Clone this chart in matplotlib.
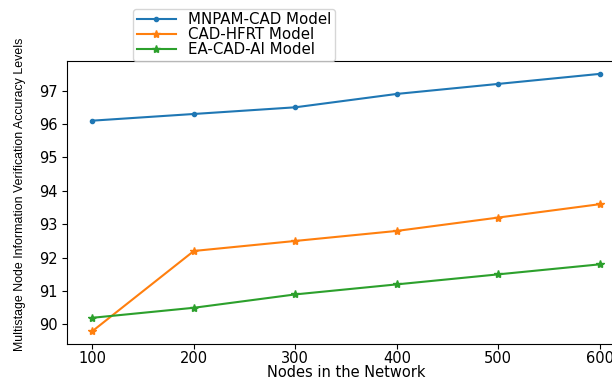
import matplotlib.pyplot as plt

# Verification accuracy for each model as the network grows
nodes = [100, 200, 300, 400, 500, 600]
mnpam_cad = [96.1, 96.3, 96.5, 96.9, 97.2, 97.5]
cad_hfrt = [89.8, 92.2, 92.5, 92.8, 93.2, 93.6]
ea_cad_ai = [90.2, 90.5, 90.9, 91.2, 91.5, 91.8]

fig = plt.figure(figsize=(6.12, 3.79), dpi=100)
# axes run past the right edge of the canvas
ax = fig.add_axes([0.1095, 0.0923, 0.912, 0.7467])

ax.plot(nodes, mnpam_cad, marker='.', color='tab:blue', label='MNPAM-CAD Model')
ax.plot(nodes, cad_hfrt, marker='*', color='tab:orange', label='CAD-HFRT Model')
ax.plot(nodes, ea_cad_ai, marker='*', color='tab:green', label='EA-CAD-AI Model')

ax.set_xticks(nodes)
ax.set_yticks(range(90, 98))
ax.tick_params(labelsize=10.5)
ax.tick_params(axis='x', pad=1.5)
ax.set_xlabel("Nodes in the Network", fontsize=10.5, labelpad=-1)
ax.set_ylabel("Multistage Node Information Verification Accuracy Levels",
              family='Liberation Sans', fontsize=8.9)
ax.yaxis.set_label_coords(-0.074, 0.53)

ax.legend(loc='lower left', bbox_to_anchor=(0.118, 1.0), borderaxespad=0,
          fontsize=10.8, labelspacing=0.0, handlelength=2.6, borderpad=0.25)

fig.savefig("out.png", dpi=100)
